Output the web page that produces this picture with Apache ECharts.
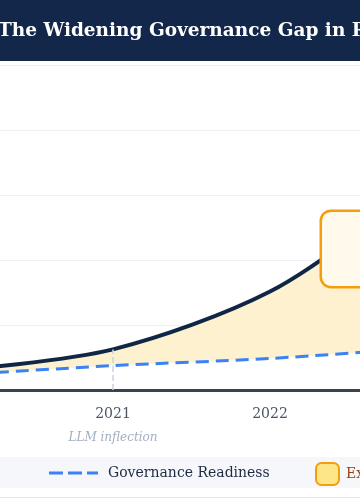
<!DOCTYPE html>
<html>
<head>
<meta charset="utf-8">
<script src="https://cdn.jsdelivr.net/npm/echarts@6/dist/echarts.min.js"></script>
<style>
  html, body { margin: 0; padding: 0; background: #ffffff; overflow: hidden; }
  body { width: 360px; height: 500px; position: relative; }
  #chart { position: absolute; left: -100px; top: 0; width: 900px; height: 500px; }
</style>
</head>
<body>
<div id="chart"></div>
<script>
const years = ['2020', '2021', '2022', '2023', '2024', '2025'];
const capability = [6.0, 12.5, 30.3, 62, 82, 95];
const readiness = [4.6, 7.5, 9.7, 13.0, 16, 19];
const yTicks = [0, 20, 40, 60, 80, 100];
const inflectionYear = '2021';
const calloutAt = ['2023', 43.4];

const gap = capability.map((v, i) => +(v - readiness[i]).toFixed(2));
const serif = '"DejaVu Serif", serif';
const smoothness = 0.3;

const chart = echarts.init(document.getElementById('chart'));

const option = {
  animation: false,
  backgroundColor: '#ffffff',
  textStyle: { fontFamily: serif },
  title: {
    text: 'The Widening Governance Gap in Responsible AI',
    left: 93,
    top: 17,
    textStyle: { color: '#ffffff', fontFamily: serif, fontSize: 18.5, fontWeight: 'bold' }
  },
  graphic: [
    { type: 'rect', left: 0, top: 0, z: -1, shape: { width: 900, height: 61 }, style: { fill: '#12274a' } },
    { type: 'rect', left: 0, top: 457, z: -1, shape: { width: 900, height: 31 }, style: { fill: '#f5f7fa' } },
    { type: 'rect', left: 0, top: 497, z: -1, shape: { width: 900, height: 1 }, style: { fill: '#e3e7ec' } }
  ],
  legend: [
    {
      data: [{ name: 'AI Capability', icon: 'path://M0,0h49v4h-49z' }],
      right: 815, top: 461,
      itemWidth: 49, itemHeight: 4,
      textStyle: { color: '#1f2a44', fontSize: 14, fontFamily: serif, padding: [0, 0, 0, 5] }
    },
    {
      data: [{ name: 'Governance Readiness', icon: 'path://M0,0h14v3h-14zM19,0h14v3h-14zM38,0h11v3h-11z' }],
      left: 144, top: 461,
      itemWidth: 49, itemHeight: 3,
      textStyle: { color: '#1f2a44', fontSize: 14, fontFamily: serif, padding: [0, 0, 0, 5] }
    },
    {
      data: [{
        name: 'Exposure Gap',
        icon: 'roundRect',
        itemStyle: { color: '#fde68a', borderColor: '#f59e0b', borderWidth: 2 }
      }],
      left: 410, top: 457,
      itemWidth: 23, itemHeight: 22,
      textStyle: { color: '#92400e', fontSize: 14, fontFamily: serif, padding: [0, 0, 0, 2] }
    }
  ],
  grid: { left: 56, right: 59, top: 65, bottom: 110 },
  xAxis: {
    type: 'category',
    data: years,
    boundaryGap: false,
    axisLine: { lineStyle: { color: '#3a4352', width: 3 } },
    axisTick: { show: false },
    axisLabel: {
      interval: 0,
      margin: 17,
      color: '#4b5563',
      fontSize: 14,
      fontFamily: serif,
      formatter: v => v === inflectionYear ? v + '\n{note|LLM inflection}' : v,
      rich: {
        note: { fontStyle: 'italic', fontSize: 12, color: '#a3aec0', fontFamily: serif, padding: [11, 0, 0, 0] }
      }
    }
  },
  yAxis: {
    type: 'value',
    min: yTicks[0],
    max: yTicks[yTicks.length - 1],
    interval: 20,
    axisLine: { show: false },
    axisTick: { show: false },
    axisLabel: { color: '#6b7280', fontFamily: serif },
    splitLine: { lineStyle: { color: '#eef1f6', width: 1 } }
  },
  series: [
    {
      name: '_base',
      type: 'line',
      stack: 'gap',
      data: readiness,
      smooth: smoothness,
      symbol: 'none',
      lineStyle: { width: 0 },
      silent: true,
      z: 1
    },
    {
      name: 'Exposure Gap',
      type: 'line',
      stack: 'gap',
      data: gap,
      smooth: smoothness,
      symbol: 'none',
      lineStyle: { width: 0 },
      itemStyle: { color: '#fde68a' },
      areaStyle: { color: '#fdf1cf', opacity: 1 },
      z: 1
    },
    {
      name: 'Governance Readiness',
      type: 'line',
      data: readiness,
      smooth: smoothness,
      symbol: 'none',
      lineStyle: { color: '#3b82f6', width: 3, type: [13, 7] },
      itemStyle: { color: '#3b82f6' },
      z: 3
    },
    {
      name: 'AI Capability',
      type: 'line',
      data: capability,
      smooth: smoothness,
      symbol: 'none',
      lineStyle: { color: '#0f2744', width: 4 },
      itemStyle: { color: '#0f2744' },
      z: 4,
      markLine: {
        silent: true,
        symbol: 'none',
        label: { show: false },
        lineStyle: { type: 'dashed', color: '#c9d3e1', width: 1.5 },
        data: [[
          { coord: [inflectionYear, 0] },
          { coord: [inflectionYear, capability[years.indexOf(inflectionYear)]] }
        ]]
      },
      markPoint: {
        symbol: 'circle',
        symbolSize: 0,
        silent: true,
        label: {
          show: true,
          position: 'inside',
          width: 190,
          height: 54,
          padding: 10,
          align: 'center',
          backgroundColor: '#fffaeb',
          borderColor: '#f59e0b',
          borderWidth: 2.5,
          borderRadius: 9,
          formatter: '{pad|}{t|Gap widens}',
          rich: {
            pad: { width: 70 },
            t: { color: '#92400e', fontSize: 13, fontWeight: 'bold', fontFamily: serif }
          }
        },
        data: [{ coord: calloutAt }]
      }
    }
  ]
};

chart.setOption(option);
window.addEventListener('resize', () => chart.resize());
</script>
</body>
</html>
